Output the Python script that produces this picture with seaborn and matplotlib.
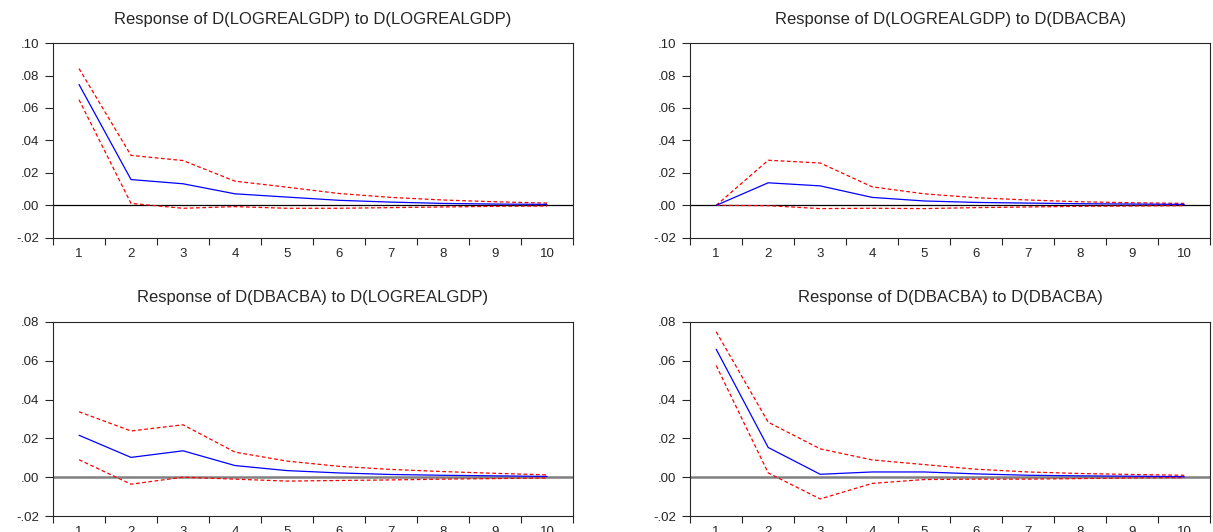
import numpy as np
import pandas as pd
import matplotlib
matplotlib.use("Agg")
import matplotlib.pyplot as plt
import seaborn as sns
from matplotlib.ticker import FixedLocator, FuncFormatter

# periods after the shock
periods = list(range(1, 11))

titles = [
    "Response of D(LOGREALGDP) to D(LOGREALGDP)",
    "Response of D(LOGREALGDP) to D(DBACBA)",
    "Response of D(DBACBA) to D(LOGREALGDP)",
    "Response of D(DBACBA) to D(DBACBA)",
]

# impulse responses (blue) and +/- 2 S.E. bands (red dashed)
gdp_gdp = [0.0745, 0.0159, 0.0133, 0.0071, 0.0051, 0.0031, 0.0020, 0.0012, 0.0008, 0.0006]
gdp_gdp_up = [0.0843, 0.0308, 0.0276, 0.0149, 0.0112, 0.0073, 0.0049, 0.0033, 0.0022, 0.0014]
gdp_gdp_lo = [0.0651, 0.0012, -0.0018, -0.0008, -0.0018, -0.0018, -0.0014, -0.0010, -0.0006, -0.0004]

gdp_dba = [0.0, 0.0139, 0.0120, 0.0049, 0.0027, 0.0018, 0.0014, 0.0010, 0.0008, 0.0006]
gdp_dba_up = [0.0, 0.0278, 0.0261, 0.0114, 0.0071, 0.0047, 0.0033, 0.0022, 0.0016, 0.0012]
gdp_dba_lo = [0.0, -0.0002, -0.0020, -0.0018, -0.0020, -0.0014, -0.0010, -0.0006, -0.0004, -0.0002]

dba_gdp = [0.0216, 0.0102, 0.0136, 0.0060, 0.0034, 0.0022, 0.0014, 0.0010, 0.0007, 0.0004]
dba_gdp_up = [0.0337, 0.0238, 0.0270, 0.0129, 0.0083, 0.0056, 0.0040, 0.0029, 0.0020, 0.0012]
dba_gdp_lo = [0.0090, -0.0036, 0.0000, -0.0010, -0.0020, -0.0017, -0.0014, -0.0010, -0.0007, -0.0004]

dba_dba = [0.0659, 0.0153, 0.0015, 0.0027, 0.0027, 0.0017, 0.0010, 0.0007, 0.0005, 0.0003]
dba_dba_up = [0.0749, 0.0283, 0.0146, 0.0089, 0.0065, 0.0041, 0.0027, 0.0019, 0.0014, 0.0010]
dba_dba_lo = [0.0575, 0.0022, -0.0112, -0.0032, -0.0012, -0.0010, -0.0010, -0.0007, -0.0004, -0.0002]

panels = [
    (gdp_gdp, gdp_gdp_up, gdp_gdp_lo),
    (gdp_dba, gdp_dba_up, gdp_dba_lo),
    (dba_gdp, dba_gdp_up, dba_gdp_lo),
    (dba_dba, dba_dba_up, dba_dba_lo),
]
y_limits = [(-0.02, 0.10), (-0.02, 0.10), (-0.02, 0.08), (-0.02, 0.08)]
zero_colors = ["black", "black", "gray", "gray"]

sns.set_style("ticks")
plt.rcParams["font.family"] = ["Liberation Sans", "DejaVu Sans"]

fig = plt.figure(figsize=(12.13, 5.32), dpi=100)
# axes boxes in figure fractions: left, bottom, width, height
boxes = [
    [0.0437, 0.553, 0.4287, 0.366],
    [0.569, 0.553, 0.4287, 0.366],
    [0.0437, 0.030, 0.4287, 0.365],
    [0.569, 0.030, 0.4287, 0.365],
]


def fmt_y(v, pos):
    s = "%.2f" % v
    if s.startswith("-0"):
        return "-" + s[2:]
    if s.startswith("0"):
        return s[1:]
    return s


for i, (resp, up, lo) in enumerate(panels):
    ax = fig.add_axes(boxes[i])
    df = pd.DataFrame({"period": periods, "resp": resp, "up": up, "lo": lo})
    ax.axhline(0, color=zero_colors[i], lw=0.9 if i < 2 else 1.8, zorder=1)
    sns.lineplot(data=df, x="period", y="up", ax=ax, color="red", lw=0.9,
                 linestyle=(0, (3, 2)))
    sns.lineplot(data=df, x="period", y="lo", ax=ax, color="red", lw=0.9,
                 linestyle=(0, (3, 2)))
    sns.lineplot(data=df, x="period", y="resp", ax=ax, color="blue", lw=0.9)

    ax.set_xlim(0.5, 10.5)
    ax.set_ylim(*y_limits[i])
    lo_lim, hi_lim = y_limits[i]
    ax.set_yticks(np.arange(lo_lim, hi_lim + 0.001, 0.02))
    ax.yaxis.set_major_formatter(FuncFormatter(fmt_y))
    ax.set_xticks(periods)
    ax.xaxis.set_minor_locator(FixedLocator(np.arange(0.5, 11, 1)))
    ax.tick_params(axis="x", which="major", length=0, labelsize=9.5, pad=7)
    ax.tick_params(axis="x", which="minor", length=5, width=0.8, direction="out")
    ax.tick_params(axis="y", length=6, width=0.8, direction="out", labelsize=9.5, pad=4)
    ax.set_xlabel("")
    ax.set_ylabel("")
    for sp in ax.spines.values():
        sp.set_visible(True)
        sp.set_linewidth(0.8)
    ax.set_title(titles[i], fontsize=12, pad=14)

fig.savefig("out.png", dpi=100)
